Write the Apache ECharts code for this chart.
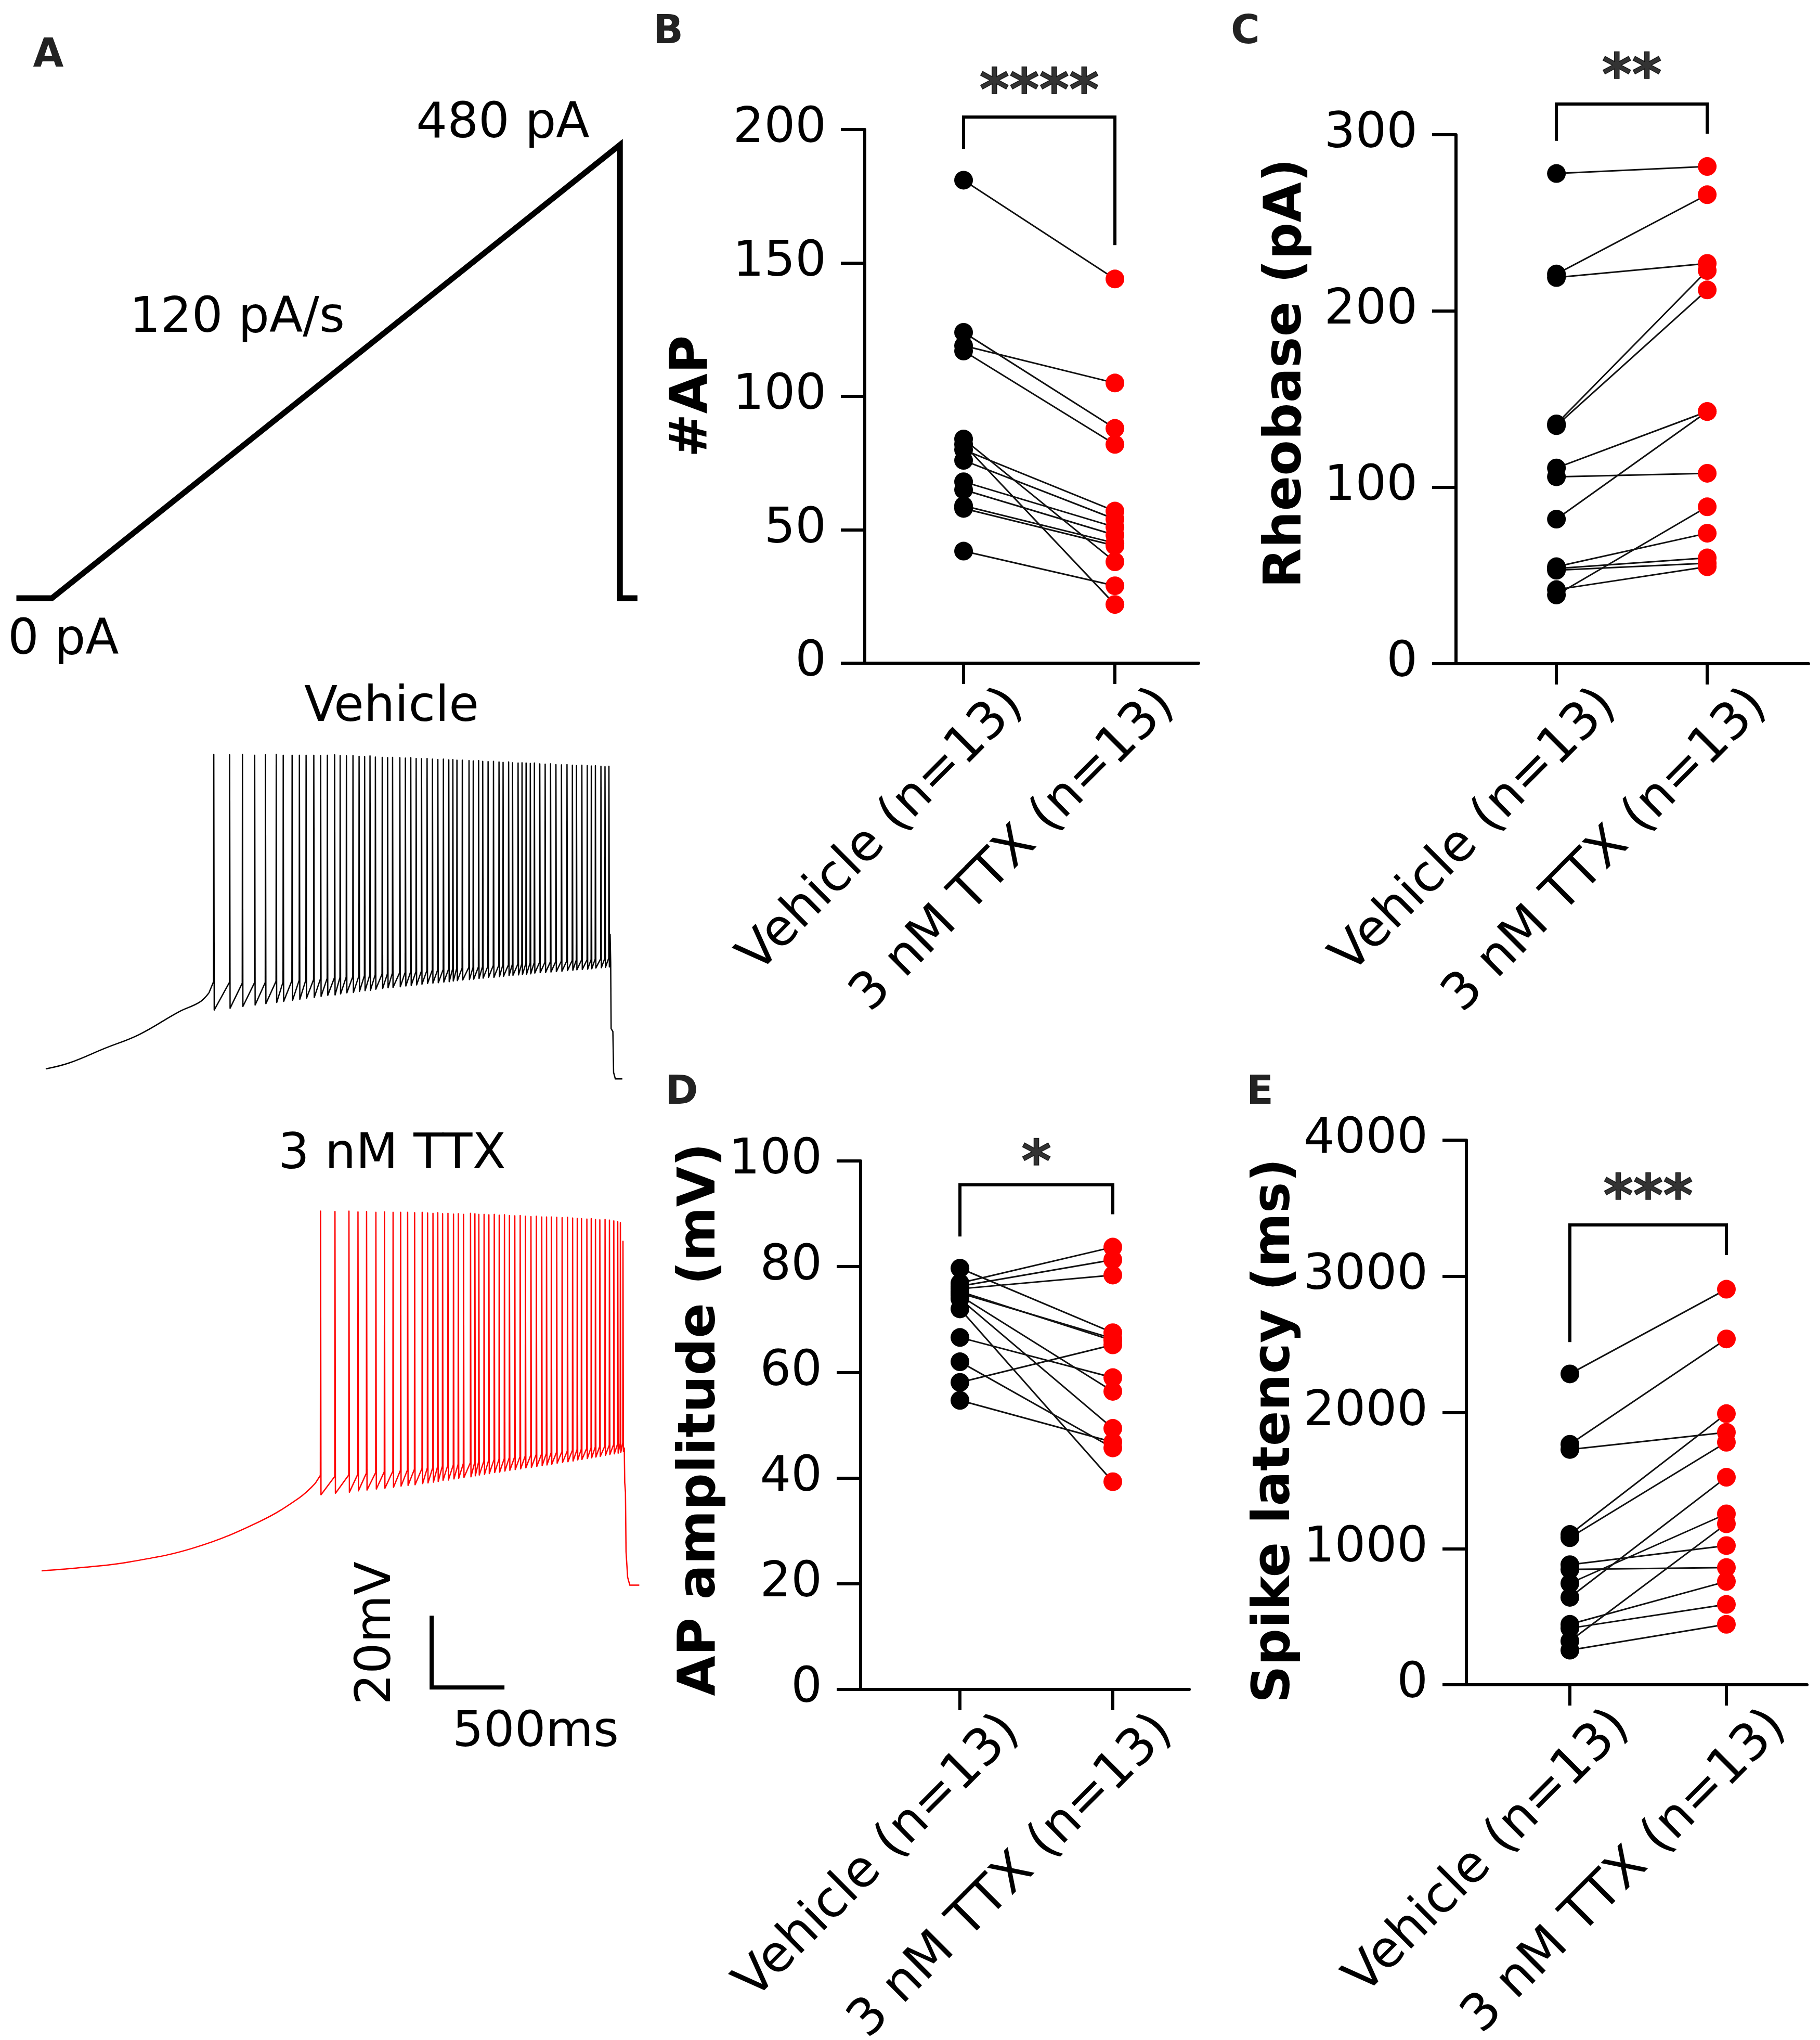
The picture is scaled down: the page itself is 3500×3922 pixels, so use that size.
<!DOCTYPE html>
<html>
<head>
<meta charset="utf-8">
<title>Ramp firing, vehicle vs 3 nM TTX</title>
<script src="https://cdn.jsdelivr.net/npm/echarts@6/dist/echarts.min.js"></script>
<style>
  html, body { margin: 0; padding: 0; background: #fff; }
  #chart { width: 3500px; height: 3922px; }
</style>
</head>
<body>
<div id="chart"></div>
<script>
const FONT = 'DejaVu Sans';
const groups = ['Vehicle (n=13)', '3 nM TTX (n=13)'];

// B - number of APs during the ramp (paired cells)
const apVehicle = [181, 124, 119, 117, 84, 82, 80, 76, 68, 65, 59, 58, 42];
const apTtx     = [144, 88, 105, 82, 38, 22, 57, 54, 51, 48, 45, 44, 29];
// C - rheobase (pA)
const rheoVehicle = [278, 221, 219, 136, 135, 111, 106, 82, 55, 54, 53, 42, 39];
const rheoTtx     = [282, 266, 227, 223, 212, 143, 108, 143, 74, 60, 57, 55, 89];
// D - AP amplitude (mV)
const ampVehicle = [79.7, 76.9, 76.3, 75.8, 75.0, 74.5, 73.9, 72.0, 66.6, 62.0, 58.1, 54.7, 75.3];
const ampTtx     = [67.5, 83.7, 81.3, 78.4, 66.4, 56.4, 49.4, 39.3, 59.0, 45.7, 65.2, 46.8, 66.0];
// E - spike latency (ms)
const latVehicle = [2283, 1766, 1728, 1104, 1080, 882, 847, 745, 642, 444, 415, 321, 254];
const latTtx     = [2905, 2540, 1854, 1991, 1781, 1022, 861, 1255, 1524, 759, 590, 1182, 444];

// significance brackets: [left leg end, bar, right leg end] and star height
const bracketB = [192.8, 204.7, 156.7], starsB = 213;
const bracketC = [296.5, 317.4, 300.6], starsC = 331;
const bracketD = [85.7, 95.5, 89.9],    starsD = 99;
const bracketE = [2517, 3377, 3156],    starsE = 3557;

// A - command ramp (ms, pA)
const rampTime    = [0, 250, 4250, 4250, 4373];
const rampCurrent = [0, 0, 480, 0, 0];

// A - voltage traces (ms, mV). spikes: [time, peak, threshold, after-hyperpolarisation]
const vehPre = [[0, -75], [164, -73.3], [404, -69.3], [643, -65.4], [914, -59.1], [1057, -56.4], [1121, -53.8]];
const vehSpikes = [
  [1154, 12.6, -50.7, -58.6], [1263, 12.5, -50.9, -58.1], [1351, 12.6, -51.1, -57.6], [1435, 12.4, -51.0, -57.2],
  [1509, 12.5, -50.9, -56.8], [1583, 12.6, -50.6, -56.5], [1631, 12.4, -50.8, -56.2], [1692, 12.4, -50.4, -55.9],
  [1742, 12.4, -50.3, -55.6], [1788, 12.4, -50.2, -55.3], [1841, 12.4, -50.1, -55.1], [1888, 12.3, -49.9, -54.8],
  [1934, 12.4, -49.8, -54.5], [1984, 12.5, -49.6, -54.4], [2022, 12.3, -49.5, -54.1], [2065, 12.2, -49.4, -53.8],
  [2110, 12.3, -49.3, -53.7], [2152, 12.1, -49.1, -53.4], [2190, 12.0, -49.0, -53.2], [2227, 12.2, -48.8, -53.1],
  [2264, 11.9, -48.8, -52.8], [2311, 11.8, -48.6, -52.6], [2348, 11.7, -48.5, -52.4], [2382, 11.8, -48.3, -52.3],
  [2432, 11.7, -48.2, -52.1], [2470, 11.6, -48.1, -51.9], [2507, 11.7, -48.0, -51.7], [2544, 11.5, -47.9, -51.6],
  [2581, 11.4, -47.8, -51.4], [2619, 11.5, -47.6, -51.2], [2656, 11.3, -47.5, -51.1], [2693, 11.2, -47.4, -51.0],
  [2731, 11.3, -47.3, -50.8], [2768, 11.1, -47.2, -50.7], [2796, 11.2, -47.1, -50.5], [2824, 11.0, -47.0, -50.4],
  [2861, 11.0, -46.9, -50.2], [2907, 10.9, -46.7, -50.1], [2936, 10.8, -46.7, -50.0], [2973, 10.9, -46.6, -49.8],
  [3001, 10.7, -46.5, -49.7], [3038, 10.6, -46.4, -49.5], [3075, 10.7, -46.2, -49.5], [3113, 10.5, -46.1, -49.3],
  [3141, 10.4, -46.0, -49.2], [3179, 10.5, -46.0, -49.0], [3206, 10.3, -45.9, -48.9], [3244, 10.2, -45.8, -48.8],
  [3271, 10.3, -45.7, -48.7], [3299, 10.2, -45.6, -48.6], [3328, 10.1, -45.5, -48.5], [3356, 10.2, -45.4, -48.3],
  [3393, 10.0, -45.3, -48.2], [3430, 9.9, -45.3, -48.1], [3467, 10.0, -45.2, -48.0], [3504, 9.8, -45.1, -47.9],
  [3542, 9.7, -45.0, -47.8], [3580, 9.8, -44.9, -47.6], [3617, 9.6, -44.8, -47.5], [3645, 9.5, -44.7, -47.4],
  [3682, 9.6, -44.6, -47.3], [3719, 9.5, -44.6, -47.2], [3747, 9.4, -44.5, -47.1], [3775, 9.5, -44.4, -46.9],
  [3813, 9.3, -44.3, -46.8], [3841, 9.2, -44.2, -46.7], [3868, 9.3, -44.1, -46.6]
];
const vehTail = [[3876, -37.5], [3880, -45.3], [3883, -63.8], [3895, -64.6], [3900, -76.0], [3912, -77.8], [3960, -77.8]];

const ttxPre = [[0, -75], [300, -74], [607, -72.5], [1054, -68.5], [1500, -61.2], [1768, -54.7], [1880, -50.6]];
const ttxSpikes = [
  [1916, 25.2, -48.4, -53.8], [2015, 25.1, -48.7, -53.4], [2111, 25.2, -48.3, -53.1], [2173, 25.0, -48.1, -52.7],
  [2232, 25.1, -47.8, -52.5], [2296, 24.9, -47.6, -52.2], [2355, 25.0, -47.4, -52.0], [2414, 24.9, -47.2, -51.7],
  [2466, 24.9, -47.0, -51.4], [2514, 24.9, -46.9, -51.2], [2562, 24.8, -46.7, -51.0], [2614, 24.9, -46.5, -50.7],
  [2651, 24.7, -46.3, -50.5], [2688, 24.6, -46.2, -50.3], [2721, 24.8, -46.0, -50.1], [2754, 24.5, -45.8, -49.8],
  [2791, 24.6, -45.6, -49.7], [2829, 24.4, -45.5, -49.4], [2862, 24.5, -45.3, -49.2], [2898, 24.3, -45.1, -49.0],
  [2946, 24.6, -44.9, -48.8], [2976, 24.5, -44.8, -48.5], [3003, 24.3, -44.6, -48.3], [3039, 24.3, -44.4, -48.1],
  [3072, 24.2, -44.2, -47.9], [3109, 24.3, -44.0, -47.6], [3143, 24.1, -43.9, -47.5], [3179, 24.2, -43.7, -47.2],
  [3213, 24.0, -43.5, -47.0], [3250, 23.9, -43.3, -46.8], [3287, 24.0, -43.2, -46.6], [3323, 23.8, -43.0, -46.3],
  [3361, 23.7, -42.8, -46.2], [3398, 23.8, -42.6, -45.9], [3435, 23.6, -42.5, -45.7], [3468, 23.6, -42.3, -45.5],
  [3501, 23.6, -42.1, -45.3], [3538, 23.5, -42.0, -45.0], [3575, 23.4, -41.8, -44.8], [3612, 23.5, -41.6, -44.6],
  [3647, 23.3, -41.4, -44.4], [3679, 23.2, -41.2, -44.1], [3708, 23.1, -41.1, -44.0], [3745, 23.0, -40.9, -43.7],
  [3775, 23.1, -40.7, -43.5], [3804, 22.9, -40.5, -43.3], [3834, 22.8, -40.4, -43.1], [3870, 22.9, -40.2, -42.8],
  [3900, 22.7, -40.0, -42.6], [3930, 22.5, -39.8, -42.4], [3957, 22.3, -39.7, -42.2], [3975, 22.0, -39.5, -42.0],
  [3993, 16.8, -39.3, -41.7]
];
const ttxTail = [[4002, -40.8], [4005, -50.4], [4010, -53.1], [4014, -69.7], [4025, -76.8], [4040, -79.0], [4105, -79.0]];

// scale bar: 500 ms x 20 mV, drawn in the TTX trace coordinates
const scaleBarTime = [2679, 2679, 3179];
const scaleBarVolt = [-87.5, -107.5, -107.5];

// ---- layout ----
const panels = [
  { title: '#AP', veh: apVehicle, ttx: apTtx, max: 200, interval: 50, bracket: bracketB, starY: starsB, stars: '****',
    box: { left: 1663, top: 249, width: 642, height: 1026 }, xMin: 0.347, xMax: 2.553, nameGap: 280, namePad: [0, 0, 0, 0] },
  { title: 'Rheobase (pA)', veh: rheoVehicle, ttx: rheoTtx, max: 300, interval: 100, bracket: bracketC, starY: starsC, stars: '**',
    box: { left: 2800, top: 259, width: 678, height: 1017 }, xMin: 0.334, xMax: 2.672, nameGap: 275, namePad: [0, 0, 0, 100] },
  { title: 'AP amplitude (mV)', veh: ampVehicle, ttx: ampTtx, max: 100, interval: 20, bracket: bracketD, starY: starsD, stars: '*',
    box: { left: 1655, top: 2232, width: 632, height: 1016 }, xMin: 0.350, xMax: 2.5, nameGap: 255, namePad: [0, 0, 0, 22] },
  { title: 'Spike latency (ms)', veh: latVehicle, ttx: latTtx, max: 4000, interval: 1000, bracket: bracketE, starY: starsE, stars: '***',
    box: { left: 2820, top: 2192, width: 655, height: 1047 }, xMin: 0.339, xMax: 2.515, nameGap: 298, namePad: [0, 70, 0, 0] }
];

function spikePoints(start, spikes, tail) {
  const pts = [start];
  spikes.forEach(([t, peak, thr, ahp]) => {
    pts.push([t - 1.5, thr], [t, peak], [t + 3, ahp]);
  });
  return pts.concat(tail);
}

const grids = [], xAxes = [], yAxes = [], series = [];
const black = '#000';
const red = '#ff0000';

panels.forEach((p, i) => {
  grids.push(Object.assign({ containLabel: false, outerBoundsMode: 'none' }, p.box));
  const unit = p.box.width / (p.xMax - p.xMin);
  const shift = 100 / unit; // labels sit a little to the right of their ticks
  xAxes.push({
    type: 'value', gridIndex: i, min: p.xMin, max: p.xMax,
    axisLine: { show: true, onZero: false, lineStyle: { color: black, width: 6 } },
    axisTick: { show: true, customValues: [1, 2], length: 40, lineStyle: { color: black, width: 6 } },
    axisLabel: {
      show: true, customValues: [1 + shift, 2 + shift], rotate: 45, margin: 66,
      fontSize: 98, fontFamily: FONT, color: black,
      formatter: v => (v < 1.5 ? groups[0] : groups[1])
    },
    splitLine: { show: false }
  });
  yAxes.push({
    type: 'value', gridIndex: i, min: 0, max: p.max, interval: p.interval,
    name: p.title, nameLocation: 'middle', nameGap: p.nameGap, nameRotate: 90,
    nameTextStyle: { fontSize: 100, fontWeight: 'bold', fontFamily: FONT, color: black, padding: p.namePad },
    axisLine: { show: true, lineStyle: { color: black, width: 6 } },
    axisTick: { show: true, length: 46, lineStyle: { color: black, width: 6 } },
    axisLabel: { fontSize: 94, fontFamily: FONT, color: black, margin: 74, formatter: v => String(v) },
    splitLine: { show: false }
  });
  series.push({
    type: 'lines', coordinateSystem: 'cartesian2d', xAxisIndex: i, yAxisIndex: i, z: 2,
    data: p.veh.map((v, k) => ({ coords: [[1, v], [2, p.ttx[k]]] })),
    lineStyle: { color: '#111', width: 3, opacity: 1 }
  });
  series.push({
    type: 'scatter', xAxisIndex: i, yAxisIndex: i, z: 3, symbolSize: 36, clip: false,
    data: p.veh.map(v => [1, v]), itemStyle: { color: black, opacity: 1 }
  });
  series.push({
    type: 'scatter', xAxisIndex: i, yAxisIndex: i, z: 3, symbolSize: 36, clip: false,
    data: p.ttx.map(v => [2, v]), itemStyle: { color: red, opacity: 1 }
  });
  series.push({
    type: 'line', xAxisIndex: i, yAxisIndex: i, clip: false, symbol: 'none',
    data: [[1, p.bracket[0]], [1, p.bracket[1]], [2, p.bracket[1]], [2, p.bracket[2]]],
    lineStyle: { color: black, width: 6, join: 'miter', cap: 'butt' }
  });
  series.push({
    type: 'scatter', xAxisIndex: i, yAxisIndex: i, clip: false, symbolSize: 1,
    itemStyle: { color: 'rgba(0,0,0,0)' },
    data: [[1.5, p.starY]],
    label: {
      show: true, position: 'inside', formatter: p.stars, fontSize: 110, fontWeight: 'bold', fontFamily: FONT,
      color: black, textBorderColor: black, textBorderWidth: 1.5
    }
  });
});

// panel A grids: ramp, vehicle trace, TTX trace
const hidden = { show: false };
function addTraceGrid(box, xMax, yMin, yMax) {
  const gi = grids.length;
  grids.push(Object.assign({ containLabel: false, outerBoundsMode: 'none' }, box));
  xAxes.push({ type: 'value', gridIndex: gi, min: 0, max: xMax, show: false, splitLine: hidden });
  yAxes.push({ type: 'value', gridIndex: gi, min: yMin, max: yMax, show: false, splitLine: hidden });
  return gi;
}
const gRamp = addTraceGrid({ left: 31.5, top: 278.5, width: 1201.7, height: 871.5 }, 4400, 0, 480);
const gVeh = addTraceGrid({ left: 88, top: 1399.5, width: 1120, height: 759 }, 4000, -90, 20);
const gTtx = addTraceGrid({ left: 80, top: 2295.5, width: 1176, height: 1104 }, 4200, -130, 30);

function traceSeries(gi, data, color, smooth) {
  return {
    type: 'line', xAxisIndex: gi, yAxisIndex: gi, clip: false, symbol: 'none', smooth: smooth,
    data: data, lineStyle: { color: color, width: 2.5, join: 'round' }
  };
}

series.push({
  type: 'line', xAxisIndex: gRamp, yAxisIndex: gRamp, clip: false, symbol: 'none',
  data: rampTime.map((t, k) => [t, rampCurrent[k]]),
  lineStyle: { color: black, width: 11, join: 'miter', cap: 'butt' }
});
series.push(traceSeries(gVeh, vehPre, black, 0.4));
series.push(traceSeries(gVeh, spikePoints(vehPre[vehPre.length - 1], vehSpikes, vehTail), black, false));
series.push(traceSeries(gTtx, ttxPre, red, 0.4));
series.push(traceSeries(gTtx, spikePoints(ttxPre[ttxPre.length - 1], ttxSpikes, ttxTail), red, false));
series.push({
  type: 'line', xAxisIndex: gTtx, yAxisIndex: gTtx, clip: false, symbol: 'none',
  data: scaleBarTime.map((t, k) => [t, scaleBarVolt[k]]),
  lineStyle: { color: black, width: 8, join: 'miter', cap: 'butt' }
});

function txt(text, x, y, size, opts) {
  return Object.assign({
    type: 'text', x, y,
    style: Object.assign({ text, fontSize: size, fontFamily: FONT, fill: black, align: 'center', verticalAlign: 'middle' },
      (opts && opts.style) || {})
  }, (opts && opts.rotation) ? { rotation: opts.rotation } : {});
}
const letter = { style: { fontWeight: 'bold', fill: '#222' } };

const chart = echarts.init(document.getElementById('chart'), null, { renderer: 'canvas' });
chart.setOption({
  animation: false,
  backgroundColor: '#fff',
  textStyle: { fontFamily: FONT },
  grid: grids,
  xAxis: xAxes,
  yAxis: yAxes,
  series: series,
  graphic: [
    txt('A', 93, 108, 76, letter),
    txt('B', 1285, 63, 76, letter),
    txt('C', 2395, 63, 76, letter),
    txt('D', 1311, 2102, 76, letter),
    txt('E', 2423, 2102, 76, letter),
    txt('480 pA', 967, 240, 94),
    txt('120 pA/s', 456, 614, 94),
    txt('0 pA', 15, 1233, 94, { style: { align: 'left' } }),
    txt('Vehicle', 753, 1362, 94),
    txt('3 nM TTX', 754, 2222, 94),
    txt('20mV', 726, 3140, 94, { rotation: Math.PI / 2 }),
    txt('500ms', 1030, 3333, 94)
  ]
});
</script>
</body>
</html>
